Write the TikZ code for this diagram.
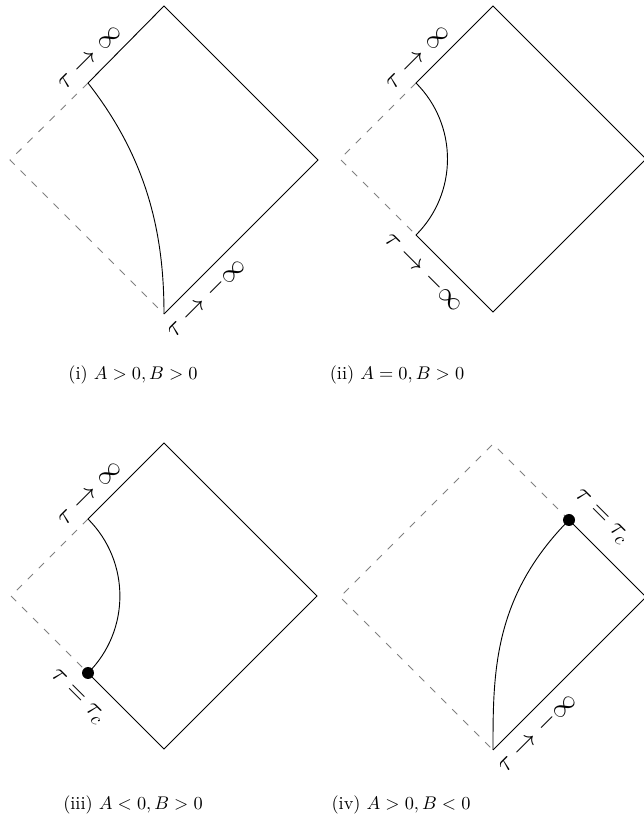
\documentclass[tikz,border=0pt]{standalone}
\usetikzlibrary{calc}

\begin{document}
\begin{tikzpicture}[
        x=0.0192cm, y=0.0192cm,
        wall/.style={line width=0.5pt},
        horizon/.style={gray, line width=0.5pt, dash pattern=on 4pt off 4.5pt},
        lbl/.style={inner sep=0pt, font=\Large},
        subcap/.style={inner sep=0pt},
        endpt/.style={fill=black}
    ]
    \useasboundingbox (0,0) rectangle (644,825);

    % (i)
    \coordinate (T1) at (164,819);
    \coordinate (R1) at (318,665);
    \coordinate (B1) at (164,511);
    \coordinate (L1) at (10,665);
    \coordinate (P1) at (88,742);
    \draw[wall] (P1) -- (T1) -- (R1) -- (B1);
    \draw[horizon] (P1) -- (L1) -- (B1);
    \draw[wall] (P1) .. controls ($(B1)+(-15,153)$) and ($(B1)+(0,77)$) .. (B1);
    \node[lbl, rotate=45] (up1) at ($(P1)+(2,25)$) {$\tau\to\infty$};
    \node[lbl, rotate=45] (dn1) at ($(B1)+(42,16)$) {$\tau\to-\infty$};
    \node[subcap] (cap1) at (133,450) {(i) $A>0, B>0$};

    % (ii)
    \coordinate (T2) at (493,819);
    \coordinate (R2) at (646,666);
    \coordinate (B2) at (493,513);
    \coordinate (L2) at (340,666);
    \coordinate (P2) at (416,742);
    \coordinate (Q2) at (416,590);
    \draw[wall] (P2) -- (T2) -- (R2) -- (B2) -- (Q2);
    \draw[horizon] (P2) -- (L2) -- (Q2);
    \draw[wall] (P2) arc[start angle=45, end angle=-45, radius=107.5];
    \node[lbl, rotate=45] (up2) at ($(P2)+(2,25)$) {$\tau\to\infty$};
    \node[lbl, rotate=-45] (dn2) at ($(Q2)+(8,-37)$) {$\tau\to-\infty$};
    \node[subcap] (cap2) at (397,450) {(ii) $A=0, B>0$};

    % (iii)
    \coordinate (T3) at (164,382);
    \coordinate (R3) at (317,229);
    \coordinate (B3) at (164,76);
    \coordinate (L3) at (11,229);
    \coordinate (P3) at (88,306);
    \coordinate (D3) at (88,152);
    \draw[wall] (P3) -- (T3) -- (R3) -- (B3) -- (D3);
    \draw[horizon] (P3) -- (L3) -- (D3);
    \draw[wall] (P3) arc[start angle=45, end angle=-45, radius=108.9];
    \fill[endpt] (D3) circle[radius=6];
    \node[lbl, rotate=45] (up3) at ($(P3)+(2,25)$) {$\tau\to\infty$};
    \node[lbl, rotate=-45] (dn3) at ($(D3)+(-11,-24)$) {$\tau=\tau_c$};
    \node[subcap] (cap3) at (133,20) {(iii) $A<0, B>0$};

    % (iv)
    \coordinate (T4) at (493,381);
    \coordinate (R4) at (646,228);
    \coordinate (B4) at (493,75);
    \coordinate (L4) at (340,228);
    \coordinate (D4) at (569,305);
    \draw[wall] (D4) -- (R4) -- (B4);
    \draw[horizon] (D4) -- (T4) -- (L4) -- (B4);
    \draw[wall] (B4) .. controls ($(B4)+(0,77)$) and ($(B4)+(0,153)$) .. (D4);
    \fill[endpt] (D4) circle[radius=6];
    \node[lbl, rotate=-45] (up4) at ($(D4)+(32,3)$) {$\tau=\tau_c$};
    \node[lbl, rotate=45] (dn4) at ($(B4)+(44,17)$) {$\tau\to-\infty$};
    \node[subcap] (cap4) at (401,20) {(iv) $A>0, B<0$};

\end{tikzpicture}
\end{document}
